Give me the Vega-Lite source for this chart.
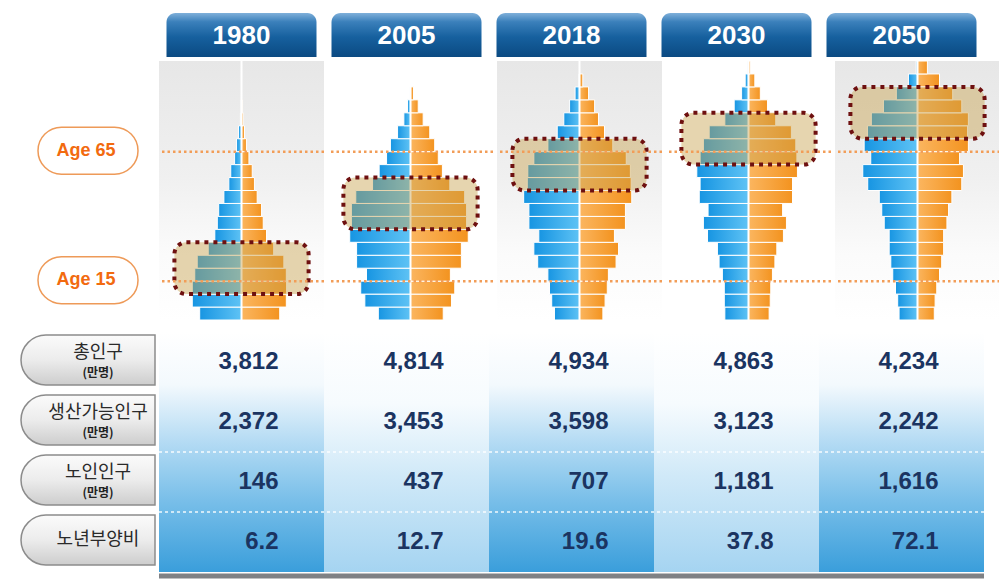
{
  "$schema": "https://vega.github.io/schema/vega-lite/v6.json",
  "background": "white",
  "padding": {"left": 20, "top": 13, "right": 0, "bottom": 0},
  "config": {"view": {"stroke": null}, "axis": {"disable": true}},
  "datasets": {
    "pyramid": [
      {"year":"1980","age_from":0,"age_to":5,"male":152,"female":139},
      {"year":"1980","age_from":5,"age_to":10,"male":179,"female":163},
      {"year":"1980","age_from":10,"age_to":15,"male":179,"female":164},
      {"year":"1980","age_from":15,"age_to":20,"male":170,"female":163},
      {"year":"1980","age_from":20,"age_to":25,"male":161,"female":154},
      {"year":"1980","age_from":25,"age_to":30,"male":121,"female":117},
      {"year":"1980","age_from":30,"age_to":35,"male":97,"female":91},
      {"year":"1980","age_from":35,"age_to":40,"male":88,"female":79},
      {"year":"1980","age_from":40,"age_to":45,"male":83,"female":73},
      {"year":"1980","age_from":45,"age_to":50,"male":64,"female":57},
      {"year":"1980","age_from":50,"age_to":55,"male":46,"female":47},
      {"year":"1980","age_from":55,"age_to":60,"male":39,"female":39},
      {"year":"1980","age_from":60,"age_to":65,"male":25,"female":27},
      {"year":"1980","age_from":65,"age_to":70,"male":18,"female":18},
      {"year":"1980","age_from":70,"age_to":75,"male":11,"female":11},
      {"year":"1980","age_from":75,"age_to":80,"male":4,"female":6},
      {"year":"1980","age_from":80,"age_to":85,"male":1,"female":3},
      {"year":"2005","age_from":0,"age_to":5,"male":117,"female":119},
      {"year":"2005","age_from":5,"age_to":10,"male":166,"female":149},
      {"year":"2005","age_from":10,"age_to":15,"male":181,"female":161},
      {"year":"2005","age_from":15,"age_to":20,"male":160,"female":145},
      {"year":"2005","age_from":20,"age_to":25,"male":196,"female":185},
      {"year":"2005","age_from":25,"age_to":30,"male":196,"female":185},
      {"year":"2005","age_from":30,"age_to":35,"male":221,"female":210},
      {"year":"2005","age_from":35,"age_to":40,"male":215,"female":204},
      {"year":"2005","age_from":40,"age_to":45,"male":215,"female":204},
      {"year":"2005","age_from":45,"age_to":50,"male":199,"female":197},
      {"year":"2005","age_from":50,"age_to":55,"male":138,"female":143},
      {"year":"2005","age_from":55,"age_to":60,"male":114,"female":116},
      {"year":"2005","age_from":60,"age_to":65,"male":87,"female":101},
      {"year":"2005","age_from":65,"age_to":70,"male":73,"female":88},
      {"year":"2005","age_from":70,"age_to":75,"male":47,"female":70},
      {"year":"2005","age_from":75,"age_to":80,"male":24,"female":46},
      {"year":"2005","age_from":80,"age_to":85,"male":11,"female":28},
      {"year":"2005","age_from":85,"age_to":90,"male":2,"female":11},
      {"year":"2018","age_from":0,"age_to":5,"male":91,"female":85},
      {"year":"2018","age_from":5,"age_to":10,"male":101,"female":93},
      {"year":"2018","age_from":10,"age_to":15,"male":109,"female":101},
      {"year":"2018","age_from":15,"age_to":20,"male":115,"female":105},
      {"year":"2018","age_from":20,"age_to":25,"male":152,"female":133},
      {"year":"2018","age_from":25,"age_to":30,"male":166,"female":142},
      {"year":"2018","age_from":30,"age_to":35,"male":148,"female":127},
      {"year":"2018","age_from":35,"age_to":40,"male":184,"female":167},
      {"year":"2018","age_from":40,"age_to":45,"male":184,"female":167},
      {"year":"2018","age_from":45,"age_to":50,"male":203,"female":190},
      {"year":"2018","age_from":50,"age_to":55,"male":190,"female":188},
      {"year":"2018","age_from":55,"age_to":60,"male":188,"female":185},
      {"year":"2018","age_from":60,"age_to":65,"male":166,"female":170},
      {"year":"2018","age_from":65,"age_to":70,"male":115,"female":121},
      {"year":"2018","age_from":70,"age_to":75,"male":81,"female":91},
      {"year":"2018","age_from":75,"age_to":80,"male":57,"female":69},
      {"year":"2018","age_from":80,"age_to":85,"male":36,"female":55},
      {"year":"2018","age_from":85,"age_to":90,"male":16,"female":33},
      {"year":"2018","age_from":90,"age_to":95,"male":2,"female":12},
      {"year":"2030","age_from":0,"age_to":5,"male":86,"female":75},
      {"year":"2030","age_from":5,"age_to":10,"male":88,"female":79},
      {"year":"2030","age_from":10,"age_to":15,"male":88,"female":81},
      {"year":"2030","age_from":15,"age_to":20,"male":95,"female":87},
      {"year":"2030","age_from":20,"age_to":25,"male":107,"female":96},
      {"year":"2030","age_from":25,"age_to":30,"male":113,"female":103},
      {"year":"2030","age_from":30,"age_to":35,"male":149,"female":127},
      {"year":"2030","age_from":35,"age_to":40,"male":164,"female":138},
      {"year":"2030","age_from":40,"age_to":45,"male":147,"female":124},
      {"year":"2030","age_from":45,"age_to":50,"male":179,"female":160},
      {"year":"2030","age_from":50,"age_to":55,"male":176,"female":160},
      {"year":"2030","age_from":55,"age_to":60,"male":188,"female":178},
      {"year":"2030","age_from":60,"age_to":65,"male":176,"female":176},
      {"year":"2030","age_from":65,"age_to":70,"male":164,"female":172},
      {"year":"2030","age_from":70,"age_to":75,"male":143,"female":156},
      {"year":"2030","age_from":75,"age_to":80,"male":86,"female":99},
      {"year":"2030","age_from":80,"age_to":85,"male":52,"female":69},
      {"year":"2030","age_from":85,"age_to":90,"male":25,"female":43},
      {"year":"2030","age_from":90,"age_to":95,"male":12,"female":23},
      {"year":"2030","age_from":95,"age_to":100,"male":3,"female":6},
      {"year":"2050","age_from":0,"age_to":5,"male":67,"female":61},
      {"year":"2050","age_from":5,"age_to":10,"male":72,"female":64},
      {"year":"2050","age_from":10,"age_to":15,"male":80,"female":70},
      {"year":"2050","age_from":15,"age_to":20,"male":90,"female":80},
      {"year":"2050","age_from":20,"age_to":25,"male":97,"female":88},
      {"year":"2050","age_from":25,"age_to":30,"male":103,"female":95},
      {"year":"2050","age_from":30,"age_to":35,"male":103,"female":95},
      {"year":"2050","age_from":35,"age_to":40,"male":121,"female":107},
      {"year":"2050","age_from":40,"age_to":45,"male":130,"female":113},
      {"year":"2050","age_from":45,"age_to":50,"male":139,"female":125},
      {"year":"2050","age_from":50,"age_to":55,"male":181,"female":161},
      {"year":"2050","age_from":55,"age_to":60,"male":199,"female":167},
      {"year":"2050","age_from":60,"age_to":65,"male":170,"female":153},
      {"year":"2050","age_from":65,"age_to":70,"male":194,"female":185},
      {"year":"2050","age_from":70,"age_to":75,"male":182,"female":182},
      {"year":"2050","age_from":75,"age_to":80,"male":168,"female":185},
      {"year":"2050","age_from":80,"age_to":85,"male":124,"female":161},
      {"year":"2050","age_from":85,"age_to":90,"male":77,"female":128},
      {"year":"2050","age_from":90,"age_to":95,"male":33,"female":80},
      {"year":"2050","age_from":95,"age_to":100,"male":5,"female":36}
    ],
    "boxes": [
      {"year":"1980","lo":10,"hi":30},
      {"year":"2005","lo":35,"hi":55},
      {"year":"2018","lo":50,"hi":70},
      {"year":"2030","lo":60,"hi":80},
      {"year":"2050","lo":70,"hi":90}
    ],
    "markers": [
      {"label":"Age 65","age":65},
      {"label":"Age 15","age":15}
    ],
    "rows": [
      {"metric":"총인구","unit":"(만명)"},
      {"metric":"생산가능인구","unit":"(만명)"},
      {"metric":"노인인구","unit":"(만명)"},
      {"metric":"노년부양비","unit":""}
    ],
    "table": [
      {"year":"1980","metric":"총인구","value":3812},
      {"year":"2005","metric":"총인구","value":4814},
      {"year":"2018","metric":"총인구","value":4934},
      {"year":"2030","metric":"총인구","value":4863},
      {"year":"2050","metric":"총인구","value":4234},
      {"year":"1980","metric":"생산가능인구","value":2372},
      {"year":"2005","metric":"생산가능인구","value":3453},
      {"year":"2018","metric":"생산가능인구","value":3598},
      {"year":"2030","metric":"생산가능인구","value":3123},
      {"year":"2050","metric":"생산가능인구","value":2242},
      {"year":"1980","metric":"노인인구","value":146},
      {"year":"2005","metric":"노인인구","value":437},
      {"year":"2018","metric":"노인인구","value":707},
      {"year":"2030","metric":"노인인구","value":1181},
      {"year":"2050","metric":"노인인구","value":1616},
      {"year":"1980","metric":"노년부양비","value":6.2},
      {"year":"2005","metric":"노년부양비","value":12.7},
      {"year":"2018","metric":"노년부양비","value":19.6},
      {"year":"2030","metric":"노년부양비","value":37.8},
      {"year":"2050","metric":"노년부양비","value":72.1}
    ]
  },
  "spacing": 0,
  "hconcat": [
    {
      "spacing": 11,
      "vconcat": [
        {
          "spacing": 3,
          "vconcat": [
            {
              "width": 134, "height": 44,
              "data": {"name": "markers"},
              "mark": {"type": "text", "opacity": 0},
              "encoding": {"text": {"value": ""}}
            },
            {
              "width": 134, "height": 259,
              "data": {"name": "markers"},
              "encoding": {"y": {"field": "age", "type": "quantitative", "scale": {"domain": [0, 100]}, "axis": null}},
              "layer": [
                {
                  "mark": {"type": "point", "filled": true, "shape": "M -0.53 -0.47 L 0.53 -0.47 C 0.7896 -0.47 1 -0.2596 1 0 C 1 0.2596 0.7896 0.47 0.53 0.47 L -0.53 0.47 C -0.7896 0.47 -1 0.2596 -1 0 C -1 -0.2596 -0.7896 -0.47 -0.53 -0.47 Z", "size": 10000, "fill": "white", "stroke": "#ee9a58", "strokeWidth": 1.5, "opacity": 1}
                },
                {
                  "mark": {"type": "text", "font": "Liberation Sans", "fontWeight": "bold", "fontSize": 18, "color": "#f26a0f", "dx": -2},
                  "encoding": {"text": {"field": "label"}}
                }
              ]
            }
          ]
        },
        {
          "width": 134, "height": 240,
          "data": {"name": "rows"},
          "encoding": {"y": {"field": "metric", "type": "nominal", "sort": ["총인구","생산가능인구","노인인구","노년부양비"], "scale": {"type": "band", "paddingInner": 0.17, "paddingOuter": 0.085}, "axis": null}},
          "layer": [
            {
              "mark": {"type": "rect", "fill": {"gradient": "linear", "x1": 0, "y1": 0, "x2": 0, "y2": 1, "stops": [{"offset": 0, "color": "#fbfbfb"}, {"offset": 0.5, "color": "#ececec"}, {"offset": 1, "color": "#cdcdcd"}]}, "stroke": "#8c8c8c", "strokeWidth": 1.5, "cornerRadiusTopLeft": 25, "cornerRadiusBottomLeft": 25}
            },
            {
              "transform": [{"filter": "datum.unit != ''"}],
              "mark": {"type": "text", "font": "Noto Sans CJK KR", "fontSize": 18, "color": "#2a2a2a", "dx": 10, "dy": -7},
              "encoding": {"text": {"field": "metric"}}
            },
            {
              "transform": [{"filter": "datum.unit != ''"}],
              "mark": {"type": "text", "font": "Noto Sans CJK KR", "fontSize": 12, "fontWeight": "bold", "color": "#222222", "dx": 10, "dy": 13},
              "encoding": {"text": {"field": "unit"}}
            },
            {
              "transform": [{"filter": "datum.unit == ''"}],
              "mark": {"type": "text", "font": "Noto Sans CJK KR", "fontSize": 18, "color": "#2a2a2a", "dx": 10},
              "encoding": {"text": {"field": "metric"}}
            }
          ]
        }
      ]
    },
    {
      "spacing": 11,
      "vconcat": [
        {
          "spacing": 3,
          "vconcat": [
            {
              "width": 825, "height": 44,
              "data": {"name": "table"},
              "transform": [{"filter": "datum.metric == '총인구'"}],
              "encoding": {"x": {"field": "year", "type": "ordinal", "scale": {"type": "band", "paddingInner": 0.0909, "paddingOuter": 0.04545}, "axis": null}},
              "layer": [
                {
                  "mark": {"type": "rect", "fill": {"gradient": "linear", "x1": 0, "y1": 0, "x2": 0, "y2": 1, "stops": [{"offset": 0, "color": "#7fb0da"}, {"offset": 0.2, "color": "#3b80bb"}, {"offset": 0.55, "color": "#16609e"}, {"offset": 1, "color": "#0b4a82"}]}, "cornerRadiusTopLeft": 9, "cornerRadiusTopRight": 9}
                },
                {
                  "mark": {"type": "text", "color": "white", "font": "Liberation Sans", "fontWeight": "bold", "fontSize": 26, "dy": 1},
                  "encoding": {"text": {"field": "year"}}
                }
              ]
            },
            {
              "data": {"name": "pyramid"},
              "transform": [{"lookup": "year", "from": {"data": {"name": "boxes"}, "key": "year", "fields": ["lo", "hi"]}}],
              "spacing": 0,
              "facet": {"column": {"field": "year", "type": "ordinal", "sort": ["1980","2005","2018","2030","2050"], "header": null}},
              "spec": {
                "width": 165, "height": 259,
                "layer": [
                  {
                    "transform": [{"aggregate": [{"op": "count", "as": "n"}], "groupby": ["year"]}, {"filter": {"field": "year", "oneOf": ["1980","2018","2050"]}}],
                    "mark": {"type": "rect", "fill": {"gradient": "linear", "x1": 0, "y1": 0, "x2": 0, "y2": 1, "stops": [{"offset": 0, "color": "#e7e7e7"}, {"offset": 0.45, "color": "#f0f0f0"}, {"offset": 0.75, "color": "#fbfbfb"}, {"offset": 1, "color": "#ffffff"}]}},
                    "encoding": {}
                  },
                  {
                    "mark": {"type": "rect", "fill": {"gradient": "linear", "x1": 0, "y1": 0, "x2": 1, "y2": 0, "stops": [{"offset": 0, "color": "#1795e2"}, {"offset": 1, "color": "#5fc3f5"}]}, "stroke": "white", "strokeWidth": 1},
                    "encoding": {
                      "y": {"field": "age_from", "type": "quantitative", "scale": {"domain": [0, 100]}, "axis": null},
                      "y2": {"field": "age_to"},
                      "x": {"field": "male", "type": "quantitative", "scale": {"domain": [-300, 300], "reverse": true}, "axis": null},
                      "x2": {"datum": 0}
                    }
                  },
                  {
                    "mark": {"type": "rect", "fill": {"gradient": "linear", "x1": 0, "y1": 0, "x2": 1, "y2": 0, "stops": [{"offset": 0, "color": "#fbb660"}, {"offset": 1, "color": "#f3931f"}]}, "stroke": "white", "strokeWidth": 1},
                    "encoding": {
                      "y": {"field": "age_from", "type": "quantitative", "axis": null},
                      "y2": {"field": "age_to"},
                      "x": {"field": "female", "type": "quantitative", "scale": {"domain": [-300, 300]}, "axis": null},
                      "x2": {"datum": 0}
                    }
                  },
                  {
                    "transform": [{"aggregate": [{"op": "count", "as": "n"}], "groupby": ["year"]}],
                    "mark": {"type": "rule", "color": "white", "strokeWidth": 2},
                    "encoding": {"x": {"datum": 0, "type": "quantitative", "scale": {"domain": [-300, 300]}, "axis": null}}
                  },
                  {
                    "transform": [{"aggregate": [{"op": "count", "as": "n"}], "groupby": ["year", "lo", "hi"]}],
                    "mark": {"type": "rect", "fill": "#c8a24e", "fillOpacity": 0.45, "stroke": "#6e1010", "strokeWidth": 4, "strokeDash": [4, 5], "cornerRadius": 12},
                    "encoding": {
                      "y": {"field": "lo", "type": "quantitative", "axis": null},
                      "y2": {"field": "hi"},
                      "x": {"datum": -244, "type": "quantitative", "scale": {"domain": [-300, 300]}, "axis": null},
                      "x2": {"datum": 244}
                    }
                  },
                  {
                    "transform": [{"aggregate": [{"op": "count", "as": "n"}], "groupby": ["year"]}],
                    "mark": {"type": "rule", "color": "#f29d58", "strokeWidth": 2.5, "strokeDash": [2.5, 3]},
                    "encoding": {"y": {"datum": 65, "type": "quantitative", "axis": null}}
                  },
                  {
                    "transform": [{"aggregate": [{"op": "count", "as": "n"}], "groupby": ["year"]}],
                    "mark": {"type": "rule", "color": "#f29d58", "strokeWidth": 2.5, "strokeDash": [2.5, 3]},
                    "encoding": {"y": {"datum": 15, "type": "quantitative", "axis": null}}
                  }
                ],
                "resolve": {"scale": {"x": "independent"}}
              }
            }
          ]
        },
        {
          "width": 825, "height": 240,
          "data": {"name": "table"},
          "layer": [
            {
              "transform": [{"filter": "datum.metric == '총인구'"}, {"filter": {"field": "year", "oneOf": ["1980","2018","2050"]}}],
              "mark": {"type": "rect", "fill": {"gradient": "linear", "x1": 0, "y1": 0, "x2": 0, "y2": 1, "stops": [{"offset": 0, "color": "#ffffff"}, {"offset": 0.22, "color": "#f3f9fd"}, {"offset": 0.45, "color": "#b6dcf4"}, {"offset": 0.7, "color": "#79bfe9"}, {"offset": 1, "color": "#3a9edb"}]}},
              "encoding": {"x": {"field": "year", "type": "ordinal", "scale": {"type": "band", "paddingInner": 0, "paddingOuter": 0}, "axis": null}}
            },
            {
              "transform": [{"filter": "datum.metric == '총인구'"}, {"filter": {"field": "year", "oneOf": ["2005","2030"]}}],
              "mark": {"type": "rect", "fill": {"gradient": "linear", "x1": 0, "y1": 0, "x2": 0, "y2": 1, "stops": [{"offset": 0, "color": "#ffffff"}, {"offset": 0.3, "color": "#f6fbfe"}, {"offset": 0.6, "color": "#d0e9f8"}, {"offset": 1, "color": "#a5d4f1"}]}},
              "encoding": {"x": {"field": "year", "type": "ordinal", "axis": null}}
            },
            {
              "transform": [{"filter": "datum.year == '1980' && (datum.metric == '노인인구' || datum.metric == '노년부양비')"}],
              "mark": {"type": "rule", "color": "white", "strokeWidth": 1.5, "strokeDash": [3, 3], "opacity": 0.9},
              "encoding": {"y": {"field": "metric", "type": "nominal", "sort": ["총인구","생산가능인구","노인인구","노년부양비"], "scale": {"type": "band", "paddingInner": 0, "paddingOuter": 0}, "bandPosition": 0, "axis": null}}
            },
            {
              "transform": [{"filter": "datum.year == '1980' && datum.metric == '노년부양비'"}],
              "mark": {"type": "rule", "color": "#5f6266", "strokeWidth": 5, "opacity": 0.8, "yOffset": 4},
              "encoding": {"y": {"field": "metric", "type": "nominal", "sort": ["총인구","생산가능인구","노인인구","노년부양비"], "bandPosition": 1, "axis": null}}
            },
            {
              "mark": {"type": "text", "align": "right", "dx": 37, "font": "Liberation Sans", "fontWeight": "bold", "fontSize": 24, "color": "#1b3461"},
              "encoding": {
                "x": {"field": "year", "type": "ordinal", "axis": null},
                "y": {"field": "metric", "type": "nominal", "sort": ["총인구","생산가능인구","노인인구","노년부양비"], "axis": null},
                "text": {"field": "value", "type": "quantitative", "format": ","}
              }
            }
          ]
        }
      ]
    }
  ]
}
